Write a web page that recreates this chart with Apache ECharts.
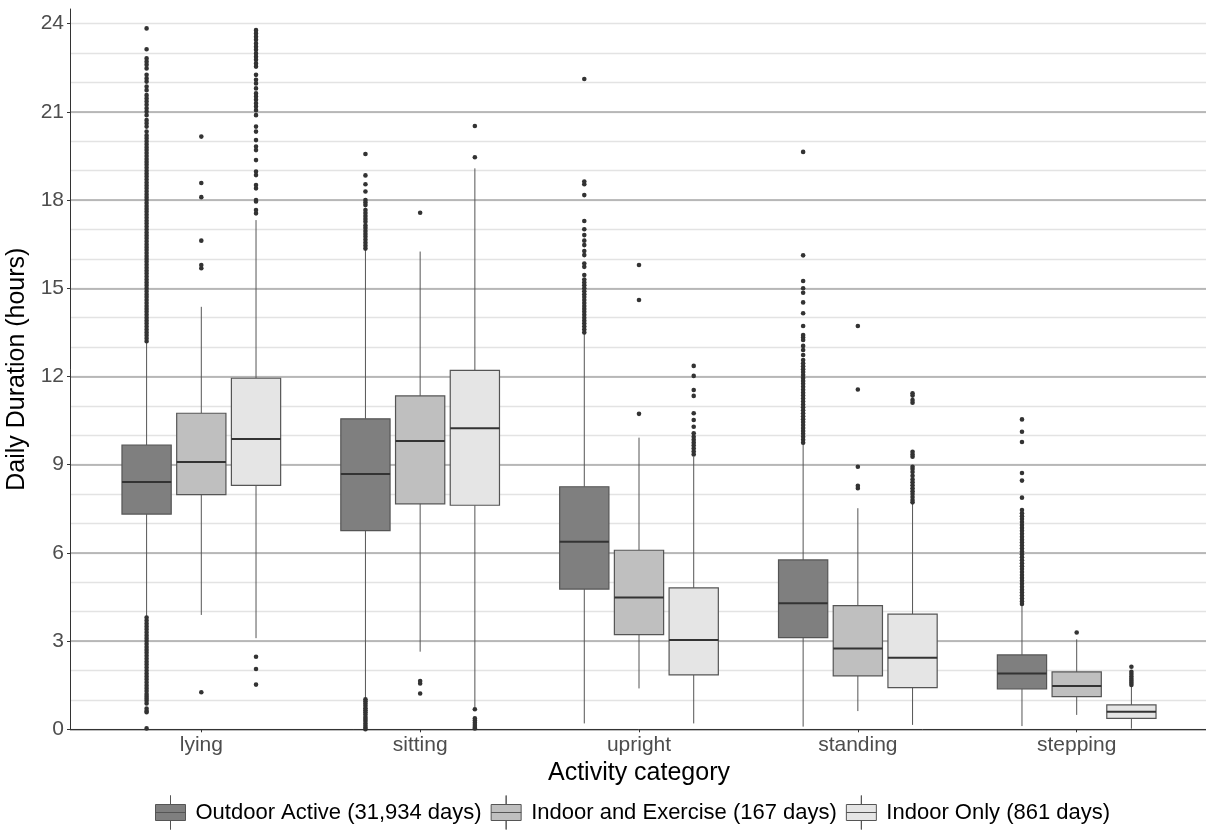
<!DOCTYPE html>
<html><head><meta charset="utf-8">
<script src="https://cdn.jsdelivr.net/npm/echarts@6/dist/echarts.min.js"></script>
<style>html,body{margin:0;padding:0;background:#fff}#c{width:1206px;height:835px}</style>
</head><body><div id="c"></div><script>
// ---- data ----
const categories = ['lying', 'sitting', 'upright', 'standing', 'stepping'];
const groups = ['Outdoor Active (31,934 days)', 'Indoor and Exercise (167 days)', 'Indoor Only (861 days)'];
const yTicks = [0, 3, 6, 9, 12, 15, 18, 21, 24];

// [lower whisker, Q1, median, Q3, upper whisker] per category
const outdoorBox = [
  [3.85, 7.32, 8.41, 9.67, 13.15],
  [1.06, 6.76, 8.68, 10.56, 16.30],
  [0.20, 4.77, 6.38, 8.25, 13.45],
  [0.09, 3.12, 4.29, 5.76, 9.70],
  [0.11, 1.37, 1.90, 2.53, 4.22]
];
const indoorExBox = [
  [3.89, 7.98, 9.09, 10.75, 14.37],
  [2.64, 7.67, 9.81, 11.34, 16.25],
  [1.39, 3.22, 4.48, 6.09, 9.92],
  [0.62, 1.82, 2.75, 4.21, 7.52],
  [0.49, 1.11, 1.47, 1.95, 3.06]
];
const indoorOnlyBox = [
  [3.10, 8.30, 9.87, 11.94, 17.32],
  [0.75, 7.62, 10.24, 12.21, 19.08],
  [0.20, 1.85, 3.04, 4.81, 9.27],
  [0.15, 1.42, 2.43, 3.92, 7.69],
  [0.02, 0.37, 0.60, 0.83, 1.45]
];

// outliers per category
const outdoorOut = [
  [0.03, 0.58, 0.62, 0.71, 0.88, 0.97, 1.05, 1.12, 1.2, 1.3, 1.4, 1.5, 1.6, 1.7, 1.8, 1.9, 2.0, 2.1, 2.2, 2.3, 2.4, 2.5, 2.6, 2.7, 2.8, 2.9, 3.0, 3.1, 3.2, 3.3, 3.4, 3.5, 3.6, 3.7, 3.8,
   13.2, 13.3, 13.4, 13.5, 13.6, 13.7, 13.8, 13.9, 14.0, 14.1, 14.2, 14.3, 14.4, 14.5, 14.6, 14.7, 14.8, 14.9, 15.0, 15.1, 15.2, 15.3, 15.4, 15.5, 15.6, 15.7, 15.8, 15.9, 16.0, 16.1, 16.2, 16.3, 16.4, 16.5, 16.6, 16.7, 16.8, 16.9, 17.0, 17.1, 17.2, 17.3, 17.4, 17.5, 17.6, 17.7, 17.8, 17.9, 18.0, 18.1, 18.2, 18.3, 18.4, 18.5, 18.6, 18.7, 18.8, 18.9, 19.0, 19.1, 19.2, 19.3, 19.4, 19.5, 19.6, 19.7, 19.8, 19.9, 20.0, 20.1, 20.2,
   20.33, 20.50, 20.61, 20.72, 20.89, 21.01, 21.12, 21.24, 21.35, 21.46, 21.57, 21.74, 21.86, 22.03, 22.14, 22.26, 22.48, 22.60, 22.71, 22.82, 23.13, 23.84],
  [0.0, 0.05, 0.12, 0.2, 0.28, 0.35, 0.42, 0.5, 0.58, 0.65, 0.72, 0.8, 0.88, 0.95, 1.02,
   16.35, 16.45, 16.55, 16.65, 16.75, 16.85, 16.95, 17.05, 17.14, 17.26, 17.36, 17.46, 17.56, 17.66, 17.83, 17.92, 18.0, 18.29, 18.54, 18.84, 19.57],
  [13.5, 13.6, 13.7, 13.8, 13.9, 14.0, 14.1, 14.2, 14.3, 14.4, 14.5, 14.6, 14.7, 14.8, 14.9, 15.0, 15.1, 15.2, 15.3, 15.45,
   15.73, 15.84, 16.13, 16.27, 16.47, 16.62, 16.81, 17.01, 17.29, 18.17, 18.54, 18.63, 22.12],
  [9.75, 9.85, 9.95, 10.05, 10.15, 10.25, 10.35, 10.45, 10.55, 10.65, 10.75, 10.85, 10.95, 11.05, 11.15, 11.25, 11.35, 11.45, 11.55, 11.65, 11.75, 11.85, 11.95, 12.05, 12.15, 12.25, 12.35, 12.45, 12.56,
   12.73, 12.90, 13.04, 13.24, 13.33, 13.41, 13.72, 14.15, 14.52, 14.85, 15.0, 15.25, 16.12, 19.64],
  [4.26, 4.35, 4.45, 4.55, 4.65, 4.75, 4.85, 4.95, 5.05, 5.15, 5.25, 5.35, 5.45, 5.55, 5.65, 5.75, 5.85, 5.95, 6.05, 6.15, 6.25, 6.35, 6.45, 6.55, 6.65, 6.75, 6.85, 6.95, 7.05, 7.15, 7.25, 7.35, 7.46,
   7.88, 8.46, 8.72, 9.77, 10.12, 10.54]
];
const indoorExOut = [
  [1.26, 15.68, 15.79, 16.62, 18.10, 18.58, 20.16],
  [1.22, 1.56, 1.64, 17.57],
  [10.73, 14.60, 15.79],
  [8.20, 8.28, 8.93, 11.56, 13.72],
  [3.29]
];
const indoorOnlyOut = [
  [1.52, 2.05, 2.47, 17.55, 17.66, 17.95, 18.0, 18.40, 18.51, 18.85, 18.97, 19.36, 19.70, 19.82, 20.04, 20.33, 20.50, 20.89, 21.06, 21.18, 21.29, 21.41, 21.52, 21.63, 21.80, 21.97, 22.09, 22.26, 22.54, 22.65, 22.77, 22.88, 22.99, 23.11, 23.22, 23.33, 23.45, 23.56, 23.67, 23.78],
  [0.03, 0.08, 0.15, 0.22, 0.30, 0.37, 0.68, 19.46, 20.52],
  [9.35, 9.45, 9.55, 9.65, 9.75, 9.85, 9.95, 10.07, 10.29, 10.52, 10.75, 11.34, 11.54, 12.02, 12.36],
  [7.72, 7.8, 7.9, 8.0, 8.1, 8.2, 8.3, 8.4, 8.5, 8.62, 8.75, 8.85, 8.93, 9.27, 9.35, 9.44, 11.11, 11.2, 11.35, 11.43],
  [1.51, 1.58, 1.65, 1.72, 1.80, 1.88, 1.96, 2.13]
];

// ---- styling ----
const FONT = '"Liberation Sans", Arial, sans-serif';
const fills = ['#7f7f7f', '#bfbfbf', '#e5e5e5'];
const offsets = [-0.25, 0, 0.25];
const boxSets = [outdoorBox, indoorExBox, indoorOnlyBox];
const outSets = [outdoorOut, indoorExOut, indoorOnlyOut];
const ICON = 'path://M0,9L30,9L30,25L0,25Z M0,17L30,17Z M15,0L15,9Z M15,25L15,34Z';

function boxData(box) { return box.map((b, i) => [i + 1].concat(b)); }
function outData(out) { const r = []; out.forEach((vals, i) => vals.forEach(v => r.push([i + 1, v]))); return r; }

function renderBox(off, fill) {
  return function (params, api) {
    const cx = api.value(0);
    const band = api.size([1, 0])[0];
    const x = api.coord([cx, 0])[0] + off * band;
    const hw = 0.1125 * band;
    const y = k => api.coord([cx, api.value(k)])[1];
    const yLo = y(1), yQ1 = y(2), yMed = y(3), yQ3 = y(4), yHi = y(5);
    const stroke = '#555555';
    return {
      type: 'group', children: [
        { type: 'line', shape: { x1: x, y1: yQ3, x2: x, y2: yHi }, style: { stroke: stroke, lineWidth: 1 } },
        { type: 'line', shape: { x1: x, y1: yQ1, x2: x, y2: yLo }, style: { stroke: stroke, lineWidth: 1 } },
        { type: 'rect', shape: { x: x - hw, y: yQ3, width: 2 * hw, height: yQ1 - yQ3 }, style: { fill: fill, stroke: stroke, lineWidth: 1.2 } },
        { type: 'line', shape: { x1: x - hw, y1: yMed, x2: x + hw, y2: yMed }, style: { stroke: '#333333', lineWidth: 2 } }
      ]
    };
  };
}
function renderOut(off) {
  return function (params, api) {
    const cx = api.value(0);
    const band = api.size([1, 0])[0];
    const pt = api.coord([cx, api.value(1)]);
    return { type: 'circle', shape: { cx: pt[0] + off * band, cy: pt[1], r: 2.3 }, style: { fill: '#333333' } };
  };
}

const series = [];
groups.forEach((g, i) => {
  series.push({
    name: g, type: 'custom', itemStyle: { color: fills[i] },
    renderItem: renderBox(offsets[i], fills[i]),
    encode: { x: 0, y: [1, 2, 3, 4, 5] },
    data: boxData(boxSets[i]), z: 2, silent: true
  });
});
groups.forEach((g, i) => {
  series.push({
    name: 'outliers ' + i, type: 'custom',
    renderItem: renderOut(offsets[i]),
    encode: { x: 0, y: 1 },
    data: outData(outSets[i]), z: 3, silent: true
  });
});

const chart = echarts.init(document.getElementById('c'), null, { renderer: 'canvas' });
chart.setOption({
  animation: false,
  backgroundColor: '#ffffff',
  textStyle: { fontFamily: FONT },
  grid: { left: 70, top: 9, width: 1138, height: 720.3, containLabel: false, outerBoundsMode: 'none' },
  legend: {
    left: 150, bottom: 0, itemWidth: 30, itemHeight: 34, itemGap: 9, selectedMode: false,
    textStyle: { fontSize: 22, color: '#000', fontFamily: FONT, padding: [0, 0, 0, 5] },
    data: groups.map((g, i) => ({ name: g, icon: ICON, itemStyle: { color: fills[i], borderColor: '#555555', borderWidth: 1 } }))
  },
  xAxis: {
    type: 'value', min: 0.4, max: 5.6,
    axisLine: { show: true, onZero: false, lineStyle: { color: '#333333', width: 1 } },
    axisTick: { show: true, length: 3, customValues: [1, 2, 3, 4, 5], lineStyle: { color: '#333333' } },
    axisLabel: { customValues: [1, 2, 3, 4, 5], formatter: v => categories[Math.round(v) - 1], fontSize: 21, color: '#4d4d4d', margin: 5, fontFamily: FONT },
    splitLine: { show: false },
    name: 'Activity category', nameLocation: 'middle', nameGap: 28,
    nameTextStyle: { fontSize: 25, color: '#000', fontFamily: FONT }
  },
  yAxis: [
    {
      type: 'value', position: 'left', min: 0, max: 24.5, interval: 1,
      axisLine: { show: true, lineStyle: { color: '#333333', width: 1 } },
      axisTick: { show: false }, axisLabel: { show: false },
      splitLine: { show: true, showMaxLine: false, lineStyle: { color: '#e3e3e3', width: 1.3 } }
    },
    {
      type: 'value', position: 'left', min: 0, max: 24.5, interval: 3,
      axisLine: { show: false },
      axisTick: { show: true, length: 3, customValues: yTicks, lineStyle: { color: '#333333' } },
      axisLabel: { customValues: yTicks, fontSize: 21, color: '#4d4d4d', margin: 6, fontFamily: FONT },
      splitLine: { show: true, showMaxLine: false, lineStyle: { color: '#a8a8a8', width: 1.5 } },
      name: 'Daily Duration (hours)', nameLocation: 'middle', nameGap: 36,
      nameTextStyle: { fontSize: 25, color: '#000', fontFamily: FONT }
    }
  ],
  series: series
});
</script></body></html>
